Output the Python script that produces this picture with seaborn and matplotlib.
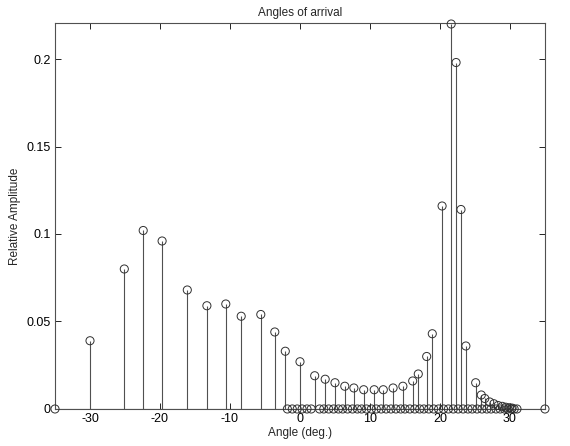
import matplotlib
matplotlib.use('Agg')
import matplotlib.pyplot as plt
import seaborn as sns
import pandas as pd

# angles (deg) with a non-zero estimated amplitude
peak_angles = [-30.0, -25.1, -22.4, -19.7, -16.1, -13.3, -10.6, -8.4, -5.6, -3.6, -2.1,
               0.0, 2.1, 3.6, 5.0, 6.4, 7.7, 9.1, 10.6, 11.9, 13.3, 14.7, 16.1, 16.9,
               18.1, 18.9, 20.3, 21.6, 22.3, 23.0, 23.7, 25.1, 25.9, 26.4, 27.1, 27.7,
               28.3, 28.9, 29.4, 29.9, 30.3]
peak_amps = [0.039, 0.080, 0.102, 0.096, 0.068, 0.059, 0.060, 0.053, 0.054, 0.044, 0.033,
             0.027, 0.019, 0.017, 0.015, 0.013, 0.012, 0.011, 0.011, 0.011, 0.012, 0.013, 0.016, 0.020,
             0.030, 0.043, 0.116, 0.220, 0.198, 0.114, 0.036, 0.015, 0.008, 0.006, 0.004, 0.003,
             0.002, 0.0015, 0.001, 0.0007, 0.0005]

# grid angles with zero amplitude
zero_angles = [-35.0, -1.8, -1.1, -0.4, 0.3, 1.0, 1.6, 2.8, 3.4, 4.1, 4.8, 5.5, 6.1, 6.8,
               7.5, 8.2, 8.8, 9.5, 10.2, 10.9, 11.6, 12.3, 13.0, 13.7, 14.4, 15.0, 15.7,
               16.4, 17.1, 17.7, 18.4, 19.1, 19.8, 20.5, 21.2, 21.9, 22.6, 23.3, 24.0,
               24.6, 25.3, 26.0, 26.7, 27.3, 28.0, 28.6, 29.2, 29.7, 30.2, 30.6, 31.0, 35.0]

df = pd.DataFrame({'angle': peak_angles + zero_angles,
                   'amp': peak_amps + [0.0] * len(zero_angles)})

sns.set_style('white')
plt.rcParams['font.family'] = ['Liberation Sans', 'DejaVu Sans']

fig = plt.figure(figsize=(5.7, 4.46), dpi=100)
ax = fig.add_axes([0.0965, 0.083, 0.8596, 0.8655])

ax.vlines(df['angle'], 0, df['amp'], color='#505050', linewidth=0.8, zorder=2)
ax.axhline(0, color='#505050', linewidth=0.8, zorder=2)
sns.scatterplot(data=df, x='angle', y='amp', ax=ax, marker='o', s=34,
                facecolor='none', edgecolor='#303030', linewidth=0.7, zorder=3,
                legend=False, clip_on=False)

ax.set_xlim(-35, 35)
ax.set_ylim(0, 0.2206)
ax.set_xticks([-30, -20, -10, 0, 10, 20, 30])
ax.set_xticklabels(['-30', '-20', '-10', '0', '10', '20', '30'])
ax.set_yticks([0, 0.05, 0.1, 0.15, 0.2])
ax.set_yticklabels(['0', '0.05', '0.1', '0.15', '0.2'])
ax.tick_params(direction='in', length=4, width=0.6, top=True, right=True,
               bottom=True, left=True, labelsize=9, colors='black', pad=3)
for sp in ax.spines.values():
    sp.set_visible(True)
    sp.set_color('#505050')
    sp.set_linewidth(0.8)

ax.set_title('Angles of arrival', fontsize=8.5, pad=5)
ax.set_xlabel('Angle (deg.)', fontsize=8.5, labelpad=1)
ax.set_ylabel('Relative Amplitude', fontsize=8.5, labelpad=4)

fig.savefig('out.png', dpi=100)
